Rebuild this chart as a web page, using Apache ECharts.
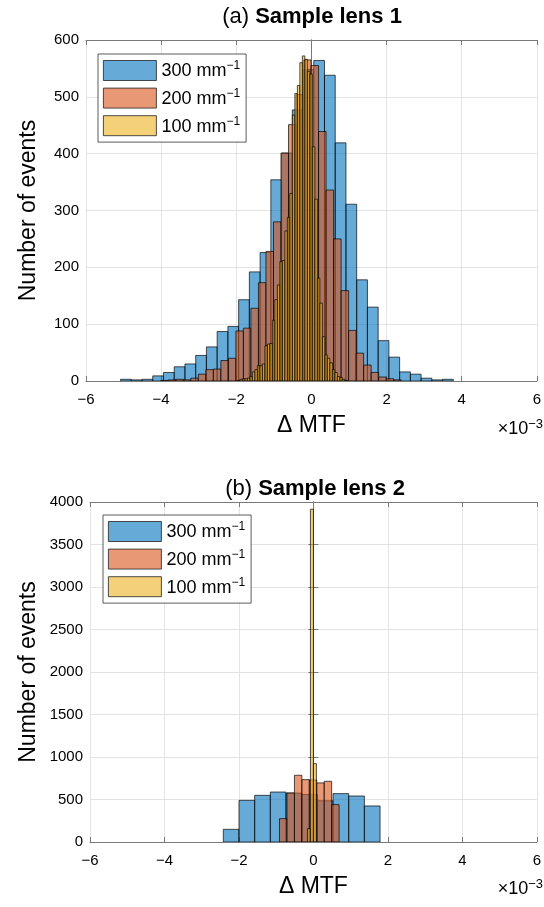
<!DOCTYPE html>
<html><head><meta charset="utf-8">
<script src="https://cdn.jsdelivr.net/npm/echarts@6/dist/echarts.min.js"></script>
<style>html,body{margin:0;padding:0;background:#fff}#c{width:544px;height:907px}</style>
</head><body><div id="c"></div>
<script>
// x values are in units of 1e-3 (ΔMTF ×10^-3)
// ---- Panel (a) Sample lens 1 ----
const a300Start = -5.08, a300Width = 0.2857;
const a300Counts = [3,2,3,9,15,25,30,45,60,87,96,143,192,226,354,401,477,548,564,538,419,311,178,130,71,42,16,12,5,2,3];
const a200Start = -4.01, a200Width = 0.2;
const a200Counts = [1,2,3,2,5,12,20,21,36,40,88,93,128,173,228,280,401,451,504,565,555,439,336,250,159,89,49,28,15,7,4,2];
const a100Start = -1.97, a100Width = 0.0665;
const a100Counts = [1,3,4,4,5,8,16,20,27,27,30,62,65,66,107,143,169,210,212,264,288,330,468,506,520,560,572,566,545,540,412,320,181,137,78,46,40,32,20,15,8,6,3,1];
// ---- Panel (b) Sample lens 2 ----
const b300Start = -2.42, b300Width = 0.421;
const b300Counts = [149,490,549,588,575,560,485,569,541,424];
const b200Start = -0.91, b200Width = 0.2;
const b200Counts = [275,577,785,734,730,695,714,440];
const b100Start = -0.16, b100Width = 0.08;
const b100Counts = [157,3915,922];

const seriesNames = ['300', '200', '100'];
const xMin = -6, xMax = 6, xStep = 2;
const aYMax = 600, aYStep = 100;
const bYMax = 4000, bYStep = 500;
const titleA = ['(a) ', 'Sample lens 1'];
const titleB = ['(b) ', 'Sample lens 2'];
const xName = 'Δ MTF';
const yName = 'Number of events';

const colors = ['rgba(0,114,189,0.6)', 'rgba(217,83,25,0.6)', 'rgba(237,177,32,0.6)'];
const FONT = '"Liberation Sans", Arial, Helvetica, sans-serif';

function toBins(start, width, counts) {
  return counts.map((c, i) => [start + i * width, start + (i + 1) * width, c]);
}
function renderBar(params, api) {
  const p0 = api.coord([api.value(0), api.value(2)]);
  const p1 = api.coord([api.value(1), 0]);
  return {
    type: 'rect',
    shape: { x: p0[0], y: p0[1], width: p1[0] - p0[0], height: p1[1] - p0[1] },
    style: { fill: api.visual('color'), stroke: 'rgba(0,0,0,0.85)', lineWidth: 0.8 }
  };
}
function histSeries(name, idx, grid, data) {
  return {
    type: 'custom', name: name, xAxisIndex: grid * 2, yAxisIndex: grid * 2,
    renderItem: renderBar, data: data, encode: { x: [0, 1], y: 2 },
    itemStyle: { color: colors[idx] }, animation: false, clip: true
  };
}
const minus = v => (v < 0 ? '\u2212' + (-v) : '' + v);
function xAxes(grid) {
  const common = {
    type: 'value', gridIndex: grid, min: xMin, max: xMax, interval: xStep,
    axisLine: { show: true, onZero: false, lineStyle: { color: '#7a7a7a', width: 1 } },
    axisTick: { show: true, inside: true, length: 5, lineStyle: { color: '#7a7a7a' } }
  };
  return [
    Object.assign({}, common, {
      position: 'bottom',
      axisLabel: { fontSize: 15, color: '#000', margin: 11, fontFamily: FONT, formatter: minus },
      splitLine: { show: true, lineStyle: { color: '#e3e3e3', width: 1 } },
      name: xName, nameLocation: 'middle', nameGap: 33, nameMoveOverlap: false,
      nameTextStyle: { fontSize: 23, color: '#000', fontFamily: FONT }
    }),
    Object.assign({}, common, { position: 'top', axisLabel: { show: false }, splitLine: { show: false } })
  ];
}
function yAxes(grid, max, step, gap) {
  const common = {
    type: 'value', gridIndex: grid, min: 0, max: max, interval: step,
    axisLine: { show: true, lineStyle: { color: '#7a7a7a', width: 1 } },
    axisTick: { show: true, inside: true, length: 5, lineStyle: { color: '#7a7a7a' } }
  };
  return [
    Object.assign({}, common, {
      position: 'left',
      axisLabel: { fontSize: 15, color: '#000', margin: 7, fontFamily: FONT, formatter: v => '' + v },
      splitLine: { show: true, lineStyle: { color: '#e3e3e3', width: 1 } },
      name: yName, nameLocation: 'middle', nameGap: gap, nameMoveOverlap: false,
      nameTextStyle: { fontSize: 23, color: '#000', fontFamily: FONT }
    }),
    Object.assign({}, common, { position: 'right', axisLabel: { show: false }, splitLine: { show: false } })
  ];
}
function legendFor(left, top) {
  return {
    data: seriesNames, orient: 'vertical', left: left, top: top,
    icon: 'rect', itemWidth: 53, itemHeight: 20, itemGap: 6.7,
    padding: [6, 6, 6, 5], backgroundColor: '#fff',
    borderColor: '#333', borderWidth: 0.8, borderRadius: 0,
    itemStyle: { borderColor: '#222', borderWidth: 0.8 },
    selectedMode: false,
    formatter: n => n + ' mm{s|\u22121}',
    textStyle: {
      fontSize: 18, color: '#000', fontFamily: FONT, padding: [2, 0, 0, 0],
      rich: { s: { fontSize: 12, verticalAlign: 'top', padding: [0, 0, 11, 0], fontFamily: FONT, color: '#000' } }
    }
  };
}
function titleText(x, y, parts) {
  return {
    type: 'text', x: x, y: y,
    style: {
      text: '{n|' + parts[0] + '}{b|' + parts[1] + '}', align: 'center', verticalAlign: 'middle',
      rich: {
        n: { fontSize: 22, fontFamily: FONT, fill: '#000', fontWeight: 'normal' },
        b: { fontSize: 22, fontFamily: FONT, fill: '#000', fontWeight: 'bold' }
      }
    }
  };
}
function expText(x, y) {
  return {
    type: 'text', x: x, y: y,
    style: {
      text: '{m|\u00d710}{s|\u22123}', align: 'right', verticalAlign: 'middle',
      rich: {
        m: { fontSize: 18, fontFamily: FONT, fill: '#000' },
        s: { fontSize: 13, fontFamily: FONT, fill: '#000', verticalAlign: 'top', padding: [0, 0, 10, 0] }
      }
    }
  };
}

const chart = echarts.init(document.getElementById('c'), null, { renderer: 'canvas' });
chart.setOption({
  backgroundColor: '#fff',
  animation: false,
  grid: [
    { left: 86, right: 5, top: 40, height: 341, show: false },
    { left: 90, right: 5, top: 502, height: 340, show: false }
  ],
  xAxis: [].concat(xAxes(0), xAxes(1)),
  yAxis: [].concat(yAxes(0, aYMax, aYStep, 46), yAxes(1, bYMax, bYStep, 50)),
  legend: [legendFor(98, 54), legendFor(103, 515)],
  series: [
    histSeries(seriesNames[0], 0, 0, toBins(a300Start, a300Width, a300Counts)),
    histSeries(seriesNames[1], 1, 0, toBins(a200Start, a200Width, a200Counts)),
    histSeries(seriesNames[2], 2, 0, toBins(a100Start, a100Width, a100Counts)),
    histSeries(seriesNames[0], 0, 1, toBins(b300Start, b300Width, b300Counts)),
    histSeries(seriesNames[1], 1, 1, toBins(b200Start, b200Width, b200Counts)),
    histSeries(seriesNames[2], 2, 1, toBins(b100Start, b100Width, b100Counts))
  ],
  graphic: [
    titleText(312, 17, titleA),
    titleText(315, 489, titleB),
    expText(543, 429),
    expText(543, 889)
  ]
});
</script></body></html>
